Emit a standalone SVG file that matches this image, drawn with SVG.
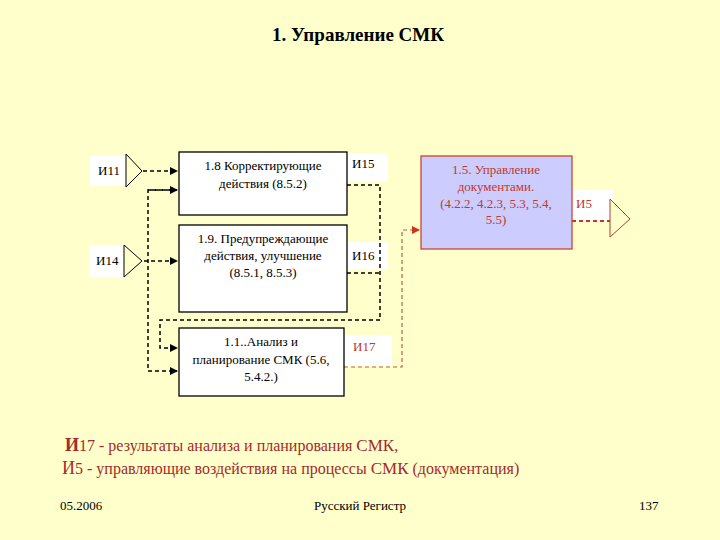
<svg xmlns="http://www.w3.org/2000/svg" width="720" height="540" viewBox="0 0 720 540">
<defs>
<style>
.bg{fill:#FFFFCC}
.box{fill:#FFFFFF;stroke:#000;stroke-width:1.3}
.lbl{fill:#FFFFFF}
text{font-family:"Liberation Serif","Times New Roman",Tinos,"DejaVu Serif",serif}
.t{font-size:13px;fill:#000}
.tr{font-size:13px;fill:#C0392B}
.c{text-anchor:middle}
.dk{fill:none;stroke:#000;stroke-width:1.5;stroke-dasharray:4 3}
.dr{fill:none;stroke:#C0603A;stroke-width:1.2;stroke-dasharray:4 3}
.dr2{fill:none;stroke:#CC3322;stroke-width:2;stroke-dasharray:4 3}
.tri{fill:#FFFFCC;stroke:#000;stroke-width:1}
.trir{fill:#FFFFCC;stroke:#B04030;stroke-width:1}
.leg{font-size:16px;fill:#A52A2A}
.ft{font-size:13px;fill:#000}
</style>
<marker id="ak" markerWidth="8" markerHeight="8" refX="7" refY="4" orient="auto" markerUnits="userSpaceOnUse"><path d="M0,0 L8,4 L0,8 Z" fill="#000"/></marker>
<marker id="ar" markerWidth="8" markerHeight="8" refX="7" refY="4" orient="auto" markerUnits="userSpaceOnUse"><path d="M0,0 L8,4 L0,8 Z" fill="#D03020"/></marker>
</defs>
<rect class="bg" x="0" y="0" width="720" height="540"/>
<text x="358" y="41" text-anchor="middle" font-size="19" font-weight="bold" fill="#000">1. Управление СМК</text>

<g id="labels">
<rect class="lbl" x="90" y="156" width="38" height="30"/>
<rect class="lbl" x="89" y="245" width="38" height="32"/>
<rect class="lbl" x="347" y="153" width="41" height="28"/>
<rect class="lbl" x="347" y="242" width="41" height="28"/>
<rect class="lbl" x="344" y="335" width="48" height="31"/>
<rect class="lbl" x="572" y="190" width="41" height="32"/>
</g>

<g id="connectors">
<path class="dk" d="M136,171 H177" marker-end="url(#ak)"/>
<path class="dk" d="M130,261 H177" marker-end="url(#ak)"/>
<path class="dk" d="M177,190 H148 V371 H177" marker-end="url(#ak)"/>
<path class="dk" d="M148,190 H177" marker-end="url(#ak)"/>
<path class="dk" d="M347,185 H380 V320 H160 V348 H177" marker-end="url(#ak)"/>
<path class="dk" d="M347,273 H380"/>
<path class="dr" d="M344,367 H402 V230 H419" marker-end="url(#ar)"/>
<path class="dr2" d="M572,221 H618" marker-end="url(#ar)"/>
</g>

<g id="n-i11">
<polygon class="tri" points="126,154 142,171 126,187"/>
<text class="t" x="98" y="175">И11</text>
</g>
<g id="n-i14">
<polygon class="tri" points="124,245 142,261 124,277"/>
<text class="t" x="96" y="265">И14</text>
</g>

<g id="n-18">
<rect class="box" x="179" y="152" width="168" height="63"/>
<text class="t c" x="263" y="170">1.8 Корректирующие</text>
<text class="t c" x="263" y="188">действия  (8.5.2)</text>
</g>
<g id="n-19">
<rect class="box" x="179" y="225" width="168" height="87"/>
<text class="t c" x="263" y="243">1.9. Предупреждающие</text>
<text class="t c" x="263" y="260">действия, улучшение</text>
<text class="t c" x="263" y="277">(8.5.1, 8.5.3)</text>
</g>
<g id="n-11">
<rect class="box" x="179" y="328" width="165" height="68"/>
<text class="t c" x="261" y="346">1.1..Анализ и</text>
<text class="t c" x="261" y="364">планирование  СМК (5.6,</text>
<text class="t c" x="261" y="381">5.4.2.)</text>
</g>
<g id="n-15">
<rect x="421" y="156" width="151" height="93" fill="#CCCCFF" stroke="#CC4433" stroke-width="1.3"/>
<text class="tr c" x="496" y="174">1.5. Управление</text>
<text class="tr c" x="496" y="191">документами.</text>
<text class="tr c" x="496" y="208">(4.2.2, 4.2.3, 5.3, 5.4,</text>
<text class="tr c" x="496" y="224">5.5)</text>
</g>
<g id="n-i15"><text class="t" x="352" y="168">И15</text></g>
<g id="n-i16"><text class="t" x="352" y="260">И16</text></g>
<g id="n-i17"><text class="tr" x="353" y="351">И17</text></g>
<g id="n-i5">
<polygon class="trir" points="610,199 630,219 610,237"/>
<text class="tr" x="576" y="208">И5</text>
</g>

<g id="legend">
<text class="leg" x="65" y="451"><tspan font-size="18" font-weight="bold">И</tspan>17 - результаты анализа и планирования <tspan font-size="17">СМК</tspan>,</text>
<text class="leg" x="62" y="474"><tspan font-size="18">И</tspan>5 - управляющие воздействия на процессы <tspan font-size="17">СМК</tspan> (документация)</text>
</g>
<g id="footer">
<text class="ft" x="60" y="510">05.2006</text>
<text class="ft" x="360" y="510" text-anchor="middle">Русский Регистр</text>
<text class="ft" x="639" y="510">137</text>
</g>
</svg>
